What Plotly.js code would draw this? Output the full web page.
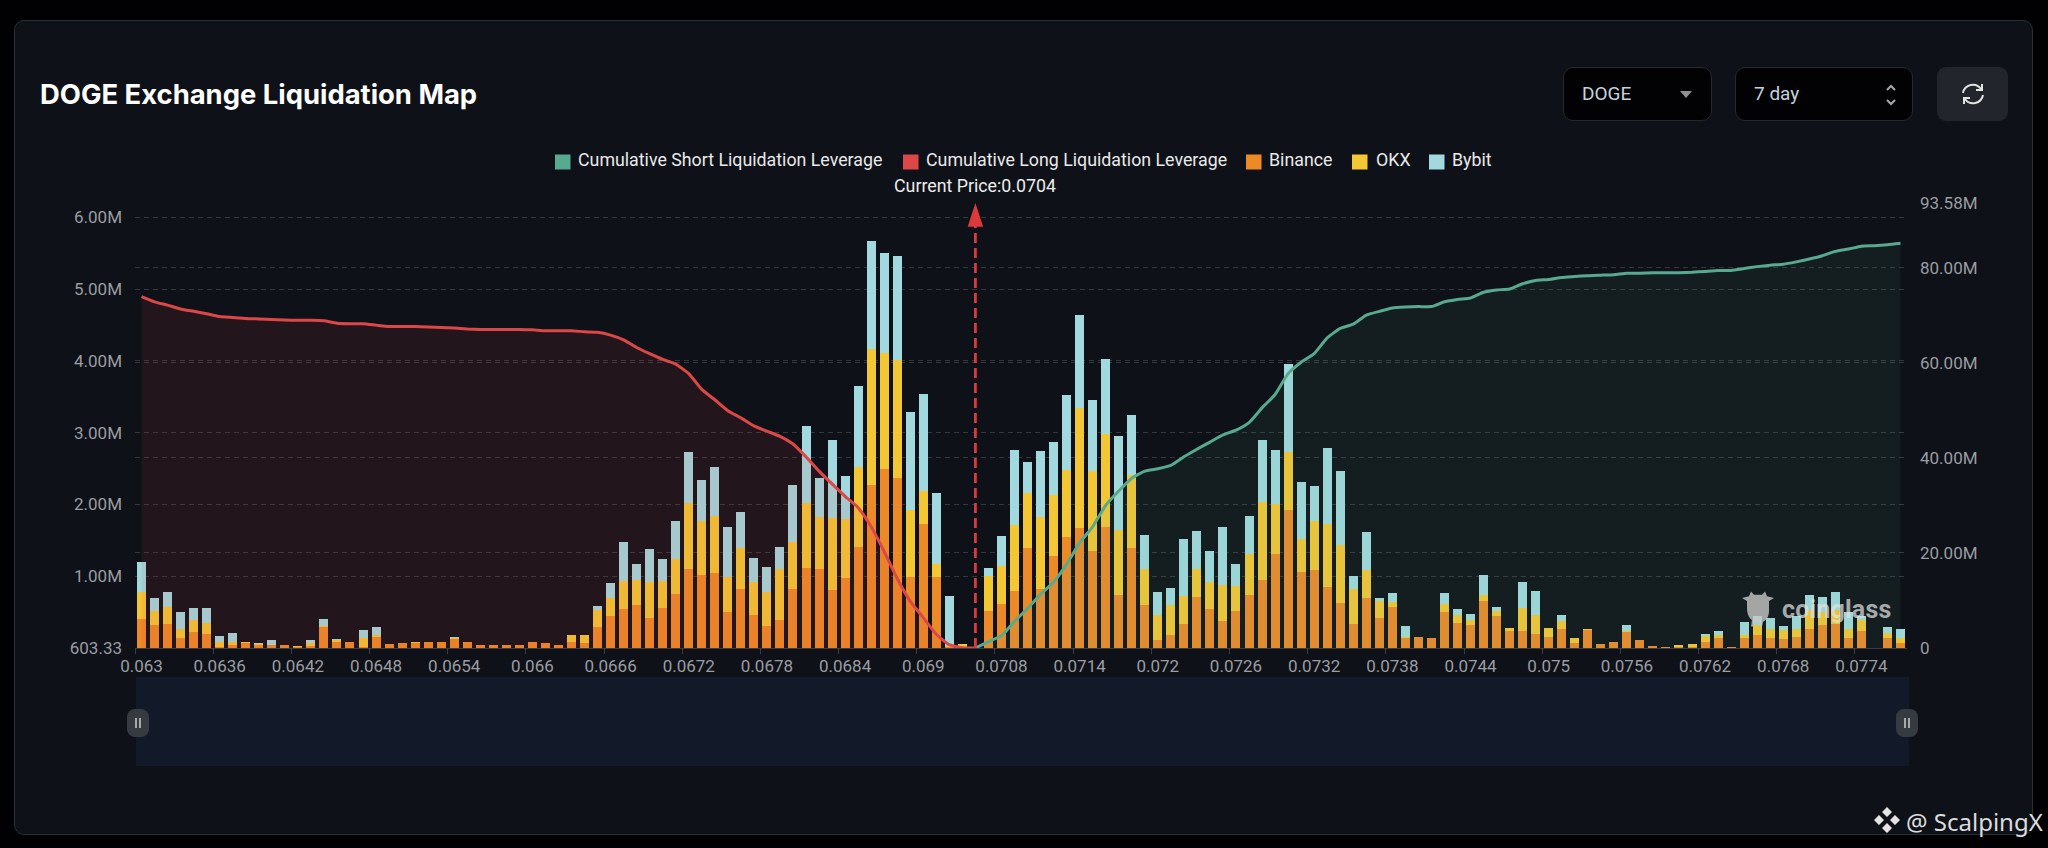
<!DOCTYPE html>
<html><head><meta charset="utf-8">
<script src="https://cdn.plot.ly/plotly-3.0.1.min.js"></script>
<style>
html,body{margin:0;padding:0;width:2048px;height:848px;background:#010104;overflow:hidden;font-family:Roboto,sans-serif}
.abs{position:absolute;box-sizing:border-box}
#panel{left:14px;top:20px;width:2019px;height:815px;background:#0e1118;border:1px solid #2b2e34;border-radius:10px}
#chart{left:0;top:0;width:2048px;height:848px}
.sel{top:67px;height:54px;background:#020205;border:1px solid #26282d;border-radius:10px;color:#c4d2dc;font:19px Roboto,sans-serif;line-height:52px;padding-left:18px}
#btn{left:1937px;top:67px;width:71px;height:54px;background:#22252b;border-radius:9px}
#slider{left:136px;top:677px;width:1773px;height:89px;background:#121928}
.hd{top:709px;width:22px;height:28px;background:#363b42;border-radius:8px;color:#a8a8a8}
.hd:before,.hd:after{content:"";position:absolute;top:9px;height:10px;width:2px;background:#a8a8a8}
.hd:before{left:8px}.hd:after{left:12px}
#cg{left:1782px;top:595px;font:bold 25px Roboto,sans-serif;color:rgba(225,225,225,.72);letter-spacing:.2px}
#wm{left:1906px;top:805px;font:24px "Noto Sans",sans-serif;color:#dcdcdc;white-space:nowrap}
</style></head><body>
<div id="panel" class="abs"></div>
<div id="slider" class="abs"></div>
<div id="chart" class="abs"></div>
<div class="abs sel" style="left:1563px;width:149px">DOGE
<svg class="abs" style="left:115px;top:23px" width="14" height="8"><path d="M1 0H13L7 7Z" fill="#8f8f8f"/></svg></div>
<div class="abs sel" style="left:1735px;width:178px">7 day
<svg class="abs" style="left:148px;top:15px" width="14" height="24"><path d="M3 7L7 3L11 7M3 17L7 21L11 17" stroke="#a9a9a9" stroke-width="2" fill="none"/></svg></div>
<div id="btn" class="abs"><svg class="abs" style="left:23px;top:15px" width="26" height="24" viewBox="0 0 26 24"><path d="M3 11A10 10 0 0 1 21 7M23 13A10 10 0 0 1 5 17M22 2V8H16M4 22V16H10" stroke="#e2e2e2" stroke-width="2" fill="none"/></svg></div>
<div class="abs hd" style="left:127px"></div>
<div class="abs hd" style="left:1896px"></div>
<svg class="abs" style="left:1740px;top:590px" width="36" height="38" viewBox="0 0 36 48" preserveAspectRatio="none"><path d="M2 10L9 8L11 2L14 6H22L25 2L27 8L34 10L29 14V26C29 33 27 38 23 40L22 46H20L19 41H15L13 46H11L12 38C8 34 7 28 7 22V14Z" fill="rgba(200,200,200,.8)"/></svg>
<div id="cg" class="abs">coinglass</div>
<svg class="abs" style="left:1873px;top:806px" width="28" height="28" viewBox="0 0 28 28"><path d="M14 1L19 6L14 11L9 6ZM6 9L11 14L6 19L1 14ZM22 9L27 14L22 19L17 14ZM14 17L19 22L14 27L9 22Z" fill="#e4e4e4"/></svg>
<div id="wm" class="abs">@ ScalpingX</div>
<script>
const categories=["0.063","0.0631","0.0632","0.0633","0.0634","0.0635","0.0636","0.0637","0.0638","0.0639",
"0.064","0.0641","0.0642","0.0643","0.0644","0.0645","0.0646","0.0647","0.0648","0.0649",
"0.065","0.0651","0.0652","0.0653","0.0654","0.0655","0.0656","0.0657","0.0658","0.0659",
"0.066","0.0661","0.0662","0.0663","0.0664","0.0665","0.0666","0.0667","0.0668","0.0669",
"0.067","0.0671","0.0672","0.0673","0.0674","0.0675","0.0676","0.0677","0.0678","0.0679",
"0.068","0.0681","0.0682","0.0683","0.0684","0.0685","0.0686","0.0687","0.0688","0.0689",
"0.069","0.0691","0.0692","0.0693","0.0704","0.0706","0.0708","0.0709",
"0.071","0.0711","0.0712","0.0713","0.0714","0.0715","0.0716","0.0717","0.0718","0.0719",
"0.072","0.0721","0.0722","0.0723","0.0724","0.0725","0.0726","0.0727","0.0728","0.0729",
"0.073","0.0731","0.0732","0.0733","0.0734","0.0735","0.0736","0.0737","0.0738","0.0739",
"0.074","0.0741","0.0742","0.0743","0.0744","0.0745","0.0746","0.0747","0.0748","0.0749",
"0.075","0.0751","0.0752","0.0753","0.0754","0.0755","0.0756","0.0757","0.0758","0.0759",
"0.076","0.0761","0.0762","0.0763","0.0764","0.0765","0.0766","0.0767","0.0768","0.0769",
"0.077","0.0771","0.0772","0.0773","0.0774","0.0775","0.0776","0.0777"];
// values in millions
const binance=[.40,.315,.335,.135,.225,.195,.01,.035,.065,.045,.035,.04,.015,.03,.29,.085,.085,.015,.155,.06,
.075,.075,.085,.08,.125,.085,.045,.04,.045,.045,.09,.065,.04,.09,.075,.295,.44,.545,.595,.415,
.56,.75,1.105,1.015,1.05,.495,.82,.46,.30,.39,.82,1.115,1.10,.805,.975,1.41,2.275,2.50,2.365,.985,
1.73,.995,.015,.02,0,.52,.615,.80,1.395,.82,1.285,1.545,1.67,1.35,1.68,.745,1.40,.605,.115,.175,
.33,.705,.54,.37,.51,.735,.95,1.31,1.92,1.055,1.09,.85,.63,.33,.70,.425,.575,.14,.155,.14,
.505,.345,.32,.65,.445,.235,.235,.20,.155,.265,.07,.245,.05,.085,.22,.11,.025,.01,.01,.015,
.08,.145,.01,.145,.18,.135,.13,.16,.265,.325,.34,.14,.23,0,.145,.065];
const okx=[.385,.20,.23,.135,.16,.15,.08,.055,.025,.005,.005,0,.01,.04,.02,.025,0,.125,.02,0,
0,.01,0,0,.015,0,0,0,0,0,0,0,0,.09,.10,.235,.255,.39,.35,.50,
.38,.49,.91,.76,.785,.50,.575,.465,.475,.715,.655,.90,.725,1.005,.825,1.11,1.885,1.605,1.65,.935,
.455,.17,.01,.035,0,.48,.525,.915,.77,1.005,.85,.935,1.67,1.115,1.30,.90,1.01,.495,.345,.43,
.39,.395,.375,.505,.36,.58,1.085,.695,.805,.465,.675,.88,.81,.49,.38,.225,.065,.01,0,0,
.105,.115,.065,.095,.07,.045,.32,.255,.125,.115,.065,.015,0,0,.02,0,0,0,.035,.04,
.09,.035,0,.04,.145,.135,.115,.10,.26,.175,.185,.125,.155,0,.065,.08];
const bybit=[.415,.185,.215,.235,.175,.21,.075,.115,0,.025,.065,0,0,.045,.09,.02,0,.105,.12,0,
0,0,0,0,.02,0,0,0,0,0,0,0,0,0,0,.06,.21,.54,.22,.46,
.30,.53,.71,.57,.69,.69,.50,.335,.35,.305,.79,1.075,.55,1.085,.59,1.13,1.51,1.405,1.445,1.37,
1.35,1.00,.70,0,0,.115,.425,1.05,.425,.915,.74,1.05,1.295,.985,1.045,1.31,.83,.475,.315,.23,
.805,.53,.44,.805,.295,.53,.87,.75,1.235,.79,.495,1.05,1.03,.19,.535,.04,.12,.16,0,0,
.16,.085,.095,.275,.055,0,.36,.345,0,.085,0,0,0,0,.08,0,0,0,0,0,
.025,.06,0,.18,.125,.15,.065,.185,.22,.21,.26,.235,.065,0,.08,.125];
const longCum=[73.9,72.8,72.1,71.3,70.8,70.3,69.7,69.5,69.3,69.2,69.1,69.0,68.9,68.9,68.8,68.3,68.2,68.2,67.9,67.6,
67.6,67.6,67.5,67.4,67.3,67.1,67.0,67.0,67.0,67.0,66.9,66.7,66.7,66.7,66.5,66.4,65.8,64.8,63.2,61.9,
60.7,59.7,57.7,54.4,52.2,49.9,48.4,46.7,45.6,44.5,42.9,40.2,37.2,34.5,31.9,29.5,25.5,20.3,14.6,9.8,
6.4,2.9,0.7,0.08,0];
const shortCum=[0,1.35,2.6,5.6,8.3,11.3,13.9,17.6,22.1,25.5,30.0,33.0,35.7,37.2,37.7,38.4,40.2,41.8,43.3,44.8,
45.8,47.4,50.5,53.3,57.7,60.1,61.9,65.2,67.2,68.1,70.0,70.8,71.5,71.7,71.8,71.8,72.8,73.3,73.6,74.8,
75.3,75.5,76.6,77.3,77.5,77.9,78.1,78.3,78.4,78.5,78.8,78.8,78.9,78.9,78.9,79.0,79.2,79.4,79.4,79.8,
80.2,80.5,80.7,81.2,81.8,82.5,83.4,83.9,84.5,84.6,84.8,85.1];
const leftTicks=[603.33,1e6,2e6,3e6,4e6,5e6,6e6];
const leftLabels=["603.33","1.00M","2.00M","3.00M","4.00M","5.00M","6.00M"];
const rightTicks=[0,20e6,40e6,60e6,80e6,93.58e6];
const rightLabels=["0","20.00M","40.00M","60.00M","80.00M","93.58M"];
const currentPrice="0.0704";
const legendNames=["Cumulative Short Liquidation Leverage","Cumulative Long Liquidation Leverage","Binance","OKX","Bybit"];
const GREEN="#57a98f",RED="#dc4747",ORANGE="#ec8a28",YELLOW="#f3c734",BLUE="#a2d9de";
const L=135,R=1907,T=203,B=648;
const px=x=>(x-L)/(R-L), py=y=>(B-y)/(B-T);
const M=a=>a.map(v=>v*1e6);
const bar=(n,y,c)=>({type:'bar',name:n,x:categories,y:M(y),marker:{color:c,line:{width:0}},yaxis:'y',hoverinfo:'skip'});
const iCur=categories.indexOf(currentPrice);
const traces=[
 bar("Binance",binance,ORANGE),bar("OKX",okx,YELLOW),bar("Bybit",bybit,BLUE),
 {type:'scatter',mode:'lines',name:legendNames[1],x:categories.slice(0,iCur+1),y:M(longCum),yaxis:'y2',fill:'tozeroy',
  fillcolor:'rgba(220,71,71,.10)',line:{color:RED,width:3,shape:'spline',smoothing:.5},hoverinfo:'skip'},
 {type:'scatter',mode:'lines',name:legendNames[0],x:categories.slice(iCur),y:M(shortCum),yaxis:'y2',fill:'tozeroy',
  fillcolor:'rgba(87,169,143,.085)',line:{color:GREEN,width:3,shape:'spline',smoothing:.5},hoverinfo:'skip'},
 {type:'scatter',mode:'lines+markers',name:'Current Price',x:[currentPrice,currentPrice],y:[0,93.58e6],yaxis:'y2',cliponaxis:false,
  line:{color:'#dc3a3a',width:2.8,dash:'10px,5px'},marker:{symbol:['circle','arrow'],size:[0,25],opacity:1,color:'#dc3a3a',line:{width:0}},hoverinfo:'skip'}
];
const swatches=[[555,GREEN],[903,RED],[1246,ORANGE],[1352,YELLOW],[1429,BLUE]];
const texts=[576,924,1267,1374,1450];
const shapes=swatches.map(s=>({type:'rect',xref:'paper',yref:'paper',x0:px(s[0]),x1:px(s[0]+15.5),y0:py(169.5),y1:py(154.5),fillcolor:s[1],line:{width:0}}));
const ann=legendNames.map((t,i)=>({text:t,xref:'paper',yref:'paper',x:px(texts[i]),y:py(160),xanchor:'left',yanchor:'middle',showarrow:false,font:{family:'Roboto',size:17.8,color:'#e9e9e9'}}));
ann.push({text:'Current Price:'+currentPrice,xref:'x',yref:'paper',x:iCur,y:py(186),xanchor:'center',yanchor:'middle',showarrow:false,font:{family:'Roboto',size:17.8,color:'#ececec'}});
const grid='#33373d';
const tf={family:'Roboto',size:17,color:'#9a9da1'};
const layout={
 width:2048,height:848,margin:{l:L,r:2048-R,t:T,b:848-B,pad:0},
 paper_bgcolor:'rgba(0,0,0,0)',plot_bgcolor:'rgba(0,0,0,0)',showlegend:false,barmode:'stack',bargap:.31,
 title:{text:'DOGE Exchange Liquidation Map',x:40/2048,xref:'container',xanchor:'left',y:1-94.5/848,yref:'container',yanchor:'middle',font:{family:'Inter',size:27.4,weight:700,color:'#ffffff'}},
 xaxis:{type:'category',categoryorder:'array',categoryarray:categories,range:[-.5,135.5],tickmode:'linear',tick0:0,dtick:6,tickson:'boundaries',
  ticks:'outside',ticklen:5,tickcolor:'#3a3e44',showline:true,linecolor:'#3a3e44',showgrid:false,zeroline:false,
  tickfont:tf,tickangle:0,ticklabelstandoff:3},
 yaxis:{range:[0,6.2e6],tickmode:'array',tickvals:leftTicks,ticktext:leftLabels,showgrid:true,gridcolor:grid,griddash:'5px,4px',gridwidth:1,zeroline:false,
  tickfont:tf,ticks:'',ticklabelstandoff:12},
 yaxis2:{overlaying:'y',side:'right',range:[0,93.58e6],tickmode:'array',tickvals:rightTicks,ticktext:rightLabels,showgrid:true,gridcolor:grid,griddash:'5px,4px',gridwidth:1,zeroline:false,
  tickfont:tf,ticks:'',ticklabelstandoff:12},
 shapes:shapes,annotations:ann
};
Plotly.newPlot('chart',traces,layout,{displayModeBar:false,staticPlot:true});
</script>
</body></html>
